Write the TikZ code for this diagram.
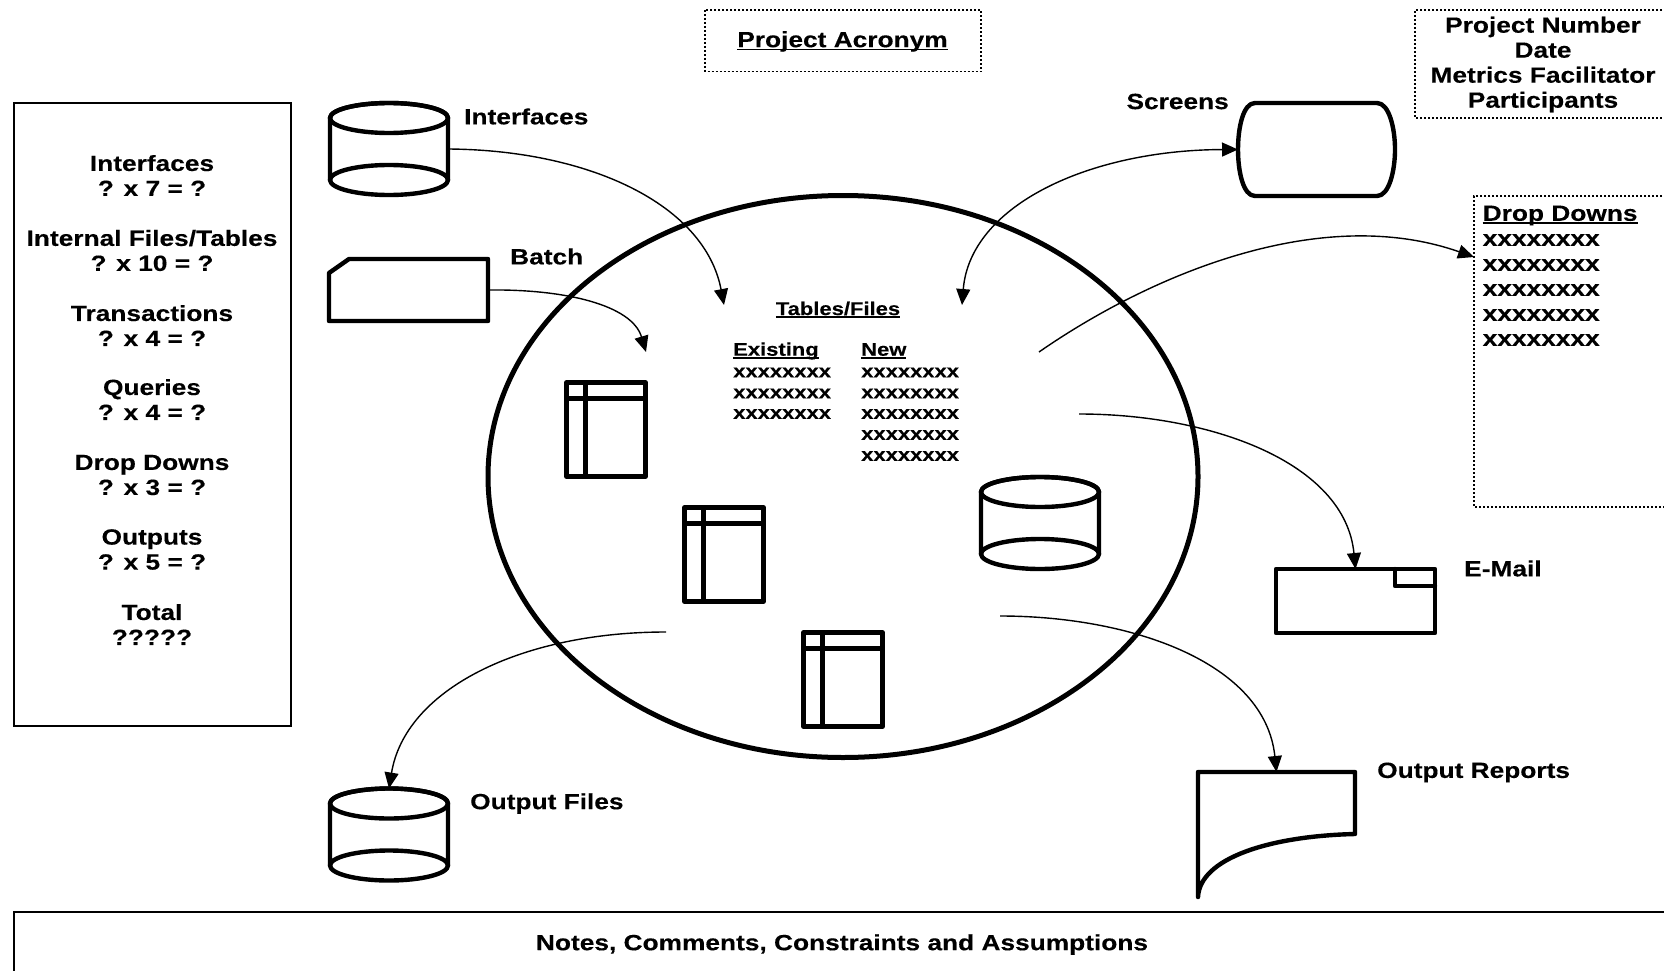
\documentclass[tikz,border=0pt]{standalone}
\usepackage{fontspec}
\setmainfont{Liberation Sans}[FakeStretch=1.195,BoldFeatures={FakeBold=0.25}]
\usetikzlibrary{arrows.meta}
\newcommand{\ulx}[1]{\setbox0\hbox{#1}\leavevmode\rlap{\rule[-3.2pt]{\wd0}{1.8pt}}\box0}
\newcommand{\bigf}{\fontsize{22}{25}\selectfont\bfseries}
\newcommand{\smf}{\fontsize{18.4}{20.7}\selectfont\bfseries}
\newcommand{\cylshape}[3]{% name, centre x, top ellipse centre y
  \node[holder,minimum width=118pt,minimum height=92pt] (#1) at (#2,#3+31) {};
  \draw[heavy,fill=white] (#2-59,#3) -- (#2-59,#3+62) arc[start angle=180,end angle=360,x radius=59,y radius=15] -- (#2+59,#3) arc[start angle=0,end angle=-180,x radius=59,y radius=15];
  \draw[heavy] (#2,#3) ellipse[x radius=59,y radius=15];
  \draw[heavy] (#2-59,#3+62) arc[start angle=180,end angle=0,x radius=59,y radius=15];
}
\newcommand{\tabshape}[3]{% name, left x, top y
  \node[holder,heavy,draw,minimum width=79pt,minimum height=94pt,anchor=north west] (#1) at (#2,#3) {};
  \draw[heavy] (#2+19,#3) -- (#2+19,#3+94);
  \draw[heavy] (#2,#3+16) -- (#2+79,#3+16);
}
\tikzset{
  heavy/.style={line width=4.4pt,line join=round,line cap=round},
  holder/.style={inner sep=0pt,outer sep=0pt},
  thinbox/.style={draw,line width=1.3pt},
  dotbox/.style={draw,line width=1.5pt,dash pattern=on 2pt off 2pt},
  conn/.style={line width=1.4pt,-{Triangle[length=16pt,width=14pt]}},
  big/.style={inner sep=0pt,align=center,font=\bigf},
  biglabel/.style={inner sep=0pt,anchor=west,font=\bigf},
  small/.style={inner sep=0pt,anchor=west,font=\smf},
}
\begin{document}
\begin{tikzpicture}[x=1pt,y=-1pt]
\path[use as bounding box,fill=white] (0,0) rectangle (1664,971);
\clip (0,0) rectangle (1664,971);

% boxes
\draw[thinbox] (14,103) rectangle (291,726);
\draw[dotbox] (705,10) rectangle (981,71.5);
\draw[dotbox] (1670,10) -- (1415,10) -- (1415,118) -- (1670,118);
\draw[dotbox] (1670,196) -- (1474,196) -- (1474,507) -- (1670,507);
\draw[thinbox] (1670,912) -- (14,912) -- (14,980);

% main circle
\draw[line width=5pt] (843,476.5) ellipse[x radius=355,y radius=281];

% shapes
\cylshape{interfaces}{389}{118}
\cylshape{outfiles}{389}{803.5}
\cylshape{innercyl}{1040}{492}

\node[holder,minimum width=159pt,minimum height=62pt] (batch) at (408.5,290) {};
\draw[heavy] (329,273) -- (349,259) -- (488,259) -- (488,321) -- (329,321) -- cycle;

\node[holder,minimum width=157pt,minimum height=93pt] (screens) at (1316.5,149.5) {};
\draw[heavy] (1255,103) -- (1377,103) .. controls (1389,103) and (1395,128) .. (1395,149.5) .. controls (1395,171) and (1389,196) .. (1377,196) -- (1255,196) .. controls (1243,196) and (1238,171) .. (1238,149.5) .. controls (1238,128) and (1243,103) .. (1255,103) -- cycle;

\tabshape{tabA}{566.5}{382.5}
\tabshape{tabB}{684.5}{507.5}
\tabshape{tabC}{803.5}{632.5}

\node[holder,heavy,draw,minimum width=159pt,minimum height=64pt] (email) at (1355.5,601) {};
\draw[heavy] (1395,569) -- (1395,586) -- (1435,586);

\node[holder,minimum width=157pt,minimum height=125pt] (report) at (1276.5,834.5) {};
\draw[heavy] (1355,834) .. controls (1270,836) and (1200,858) .. (1198,897) -- (1198,772) -- (1355,772) -- cycle;

% free ends of connectors
\coordinate (tipIface) at (724,305);
\coordinate (tipBatch) at (646,352);
\coordinate (tipScreen) at (962,305);
\coordinate (srcDrop) at (1039,352);
\coordinate (tipDrop) at (1474,257);
\coordinate (srcMail) at (1079,414);
\coordinate (srcReport) at (1000,616);
\coordinate (srcFiles) at (666,632);

% connectors
\draw[conn] (interfaces.east) .. controls (590,150) and (705,205) .. (tipIface);
\draw[conn] (batch.east) .. controls (565,289) and (632,305) .. (tipBatch);
\draw[conn,{Triangle[length=16pt,width=14pt]}-{Triangle[length=16pt,width=14pt]}] (tipScreen) .. controls (970,205) and (1090,150) .. (screens.west);
\draw[conn] (srcDrop) .. controls (1150,275) and (1320,203) .. (tipDrop);
\draw[conn] (srcMail) .. controls (1210,414) and (1345,462) .. (email.north);
\draw[conn] (srcReport) .. controls (1130,616) and (1265,662) .. (report.north);
\draw[conn] (srcFiles) .. controls (520,632) and (405,690) .. (outfiles.north);

% titles
\node[inner sep=0pt,font=\bigf] (acronym) at (842.5,41.5) {\ulx{Project Acronym}};
\node[big] (projinfo) at (1543,64.5) {Project Number\\Date\\Metrics Facilitator\\Participants};
\node[inner sep=0pt,font=\bigf] (notes) at (842,944.5) {Notes, Comments, Constraints and Assumptions};

% left box
\node[big] (m1) at (152,175.5) {Interfaces\\? x 7 = ?};
\node[big] (m2) at (152,250.5) {Internal Files/Tables\\? x 10 = ?};
\node[big] (m3) at (152,325.5) {Transactions\\? x 4 = ?};
\node[big] (m4) at (152,399.5) {Queries\\? x 4 = ?};
\node[big] (m5) at (152,475) {Drop Downs\\? x 3 = ?};
\node[big] (m6) at (152,549.5) {Outputs\\? x 5 = ?};
\node[big] (m7) at (152,624.5) {Total\\?????};

% shape labels
\node[biglabel] (lIface) at (464,116.5) {Interfaces};
\node[biglabel] (lBatch) at (510,256.5) {Batch};
\node[biglabel,anchor=east] (lScreen) at (1229,101.5) {Screens};
\node[biglabel] (lMail) at (1464,568.5) {E-Mail};
\node[biglabel] (lReport) at (1377,772.5) {Output Reports};
\node[biglabel] (lFiles) at (470,803.5) {Output Files};

% drop downs
\node[biglabel] (dd0) at (1482.5,215.5) {\ulx{Drop Downs}};
\node[biglabel] (dd1) at (1482.5,240) {xxxxxxxx};
\node[biglabel] (dd2) at (1482.5,265) {xxxxxxxx};
\node[biglabel] (dd3) at (1482.5,290) {xxxxxxxx};
\node[biglabel] (dd4) at (1482.5,315) {xxxxxxxx};
\node[biglabel] (dd5) at (1482.5,340) {xxxxxxxx};

% tables/files
\node[inner sep=0pt,font=\smf] (tf) at (838,310) {\ulx{Tables/Files}};
\node[small] (ex0) at (733,351) {\ulx{Existing}};
\node[small] (ex1) at (733,372.5) {xxxxxxxx};
\node[small] (ex2) at (733,393.5) {xxxxxxxx};
\node[small] (ex3) at (733,414) {xxxxxxxx};
\node[small] (nw0) at (861,351) {\ulx{New}};
\node[small] (nw1) at (861,372.5) {xxxxxxxx};
\node[small] (nw2) at (861,393.5) {xxxxxxxx};
\node[small] (nw3) at (861,414) {xxxxxxxx};
\node[small] (nw4) at (861,435) {xxxxxxxx};
\node[small] (nw5) at (861,456) {xxxxxxxx};
\end{tikzpicture}
\end{document}
